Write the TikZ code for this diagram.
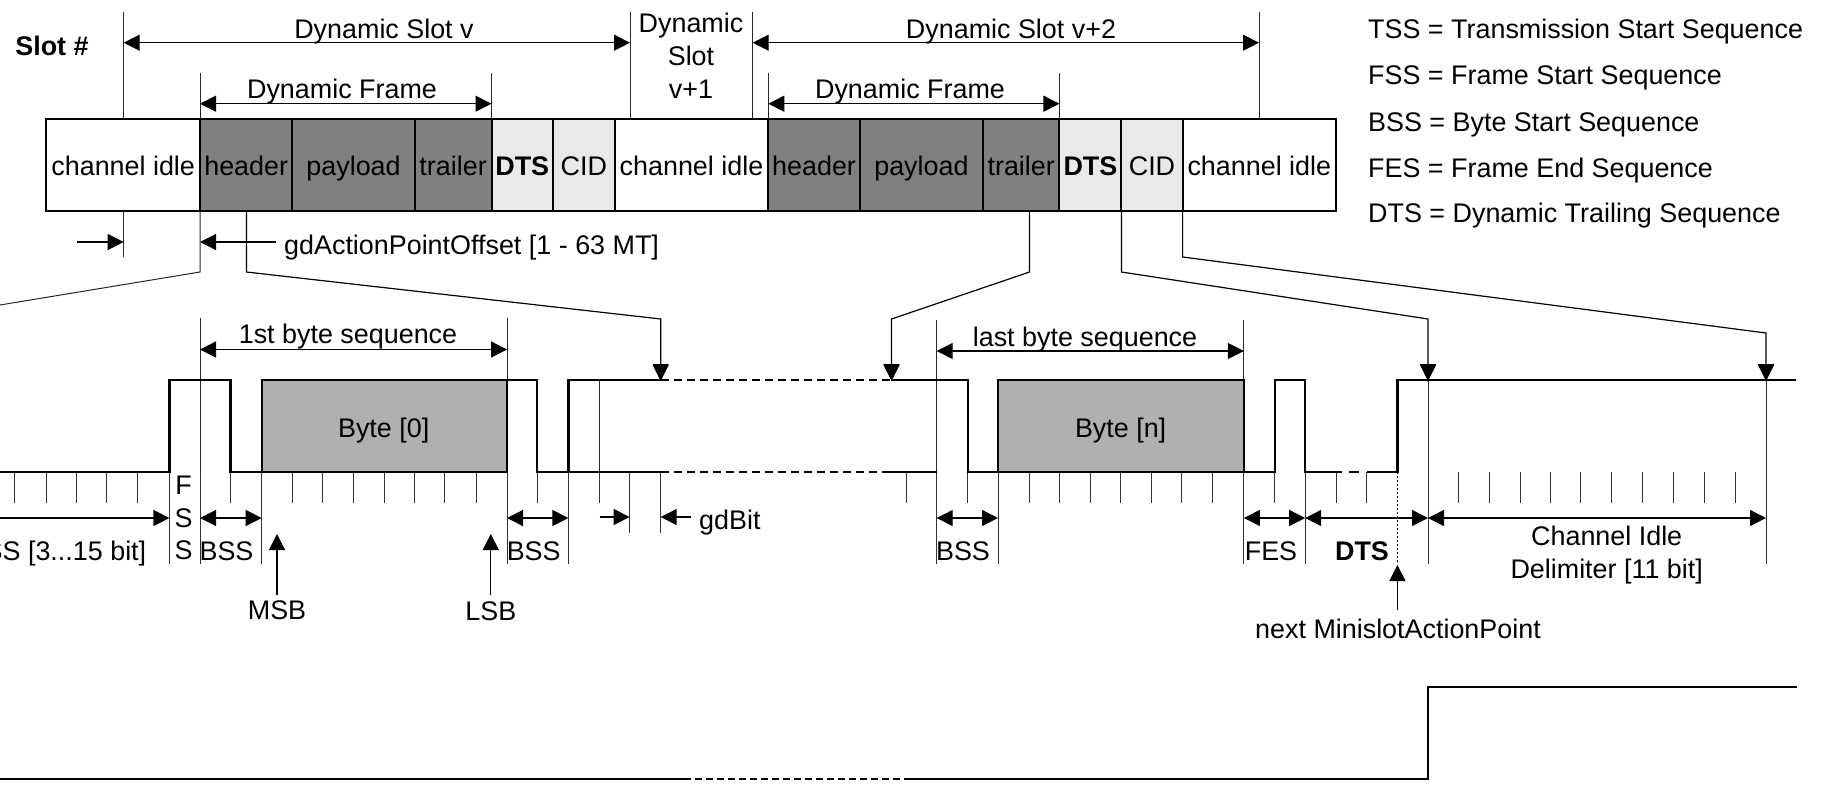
\documentclass[tikz,border=0pt]{standalone}
\usepackage{fontspec}
\setmainfont{Liberation Sans}
\usetikzlibrary{arrows.meta}
\definecolor{framedark}{HTML}{808080}
\definecolor{framelight}{HTML}{E9E9E9}
\definecolor{bytegray}{HTML}{B0B0B0}
\tikzset{
  x=1pt,y=-1pt,
  txt/.style={inner sep=0pt,font=\fontsize{26.9}{33}\selectfont,text height=21pt,text depth=0pt},
  txtb/.style={txt,font=\fontsize{26.9}{33}\selectfont\bfseries},
  multi/.style={inner sep=0pt,font=\fontsize{26.9}{33}\selectfont,align=center},
  field/.style={draw=black,line width=2pt,outer sep=0pt,inner sep=0pt,minimum height=92pt,font=\fontsize{26.9}{33}\selectfont,text height=21pt,text depth=0pt},
  bytebox/.style={draw=black,line width=2pt,outer sep=0pt,fill=bytegray,minimum height=92.3pt,inner sep=0pt,anchor=north west},
  thin line/.style={draw=black!85,line width=1pt},
  fine tick/.style={draw=black!80,line width=1pt},
  dim/.style={draw=black,line width=1.3pt,arrows={Triangle[length=16pt,width=16pt]-Triangle[length=16pt,width=16pt]}},
  pointer/.style={draw=black,line width=1.2pt,arrows={-Triangle[length=16pt,width=16pt]}},
  signal/.style={draw=black,line width=2.3pt,line join=miter},
  sigdash/.style={draw=black,line width=2.3pt,dash pattern=on 8pt off 5pt},
}
\newcommand{\fieldat}[5]{\node[field,#5,minimum width=#3pt-#2pt,anchor=west] (#1) at (#2,165) {#4};}
\begin{document}
\begin{tikzpicture}
\useasboundingbox (0,0) rectangle (1821,788);
\clip (0,0) rectangle (1821,788);
% frame fields
\fieldat{idleA}{46.4}{200}{channel idle}{fill=white}
\fieldat{headA}{200}{292.4}{header}{fill=framedark}
\fieldat{payA}{292.4}{414.7}{payload}{fill=framedark}
\fieldat{trailA}{414.7}{491.5}{trailer}{fill=framedark}
\fieldat{dtsA}{491.5}{553}{\bfseries DTS}{fill=framelight}
\fieldat{cidA}{553}{614.7}{CID}{fill=framelight}
\fieldat{idleB}{614.7}{768.3}{channel idle}{fill=white}
\fieldat{headB}{768.3}{859.8}{header}{fill=framedark}
\fieldat{payB}{859.8}{983}{payload}{fill=framedark}
\fieldat{trailB}{983}{1059.4}{trailer}{fill=framedark}
\fieldat{dtsB}{1059.4}{1121.4}{\bfseries DTS}{fill=framelight}
\fieldat{cidB}{1121.4}{1182.6}{CID}{fill=framelight}
\fieldat{idleC}{1182.6}{1336}{channel idle}{fill=white}
% top dimension lines
\coordinate (sv0t) at (123.7,12); \coordinate (sv0b) at (123.7,119); \coordinate (sv0a) at (123.7,42.7);
\coordinate (sv1t) at (630,12);   \coordinate (sv1b) at (630,119);   \coordinate (sv1a) at (630,42.7);
\coordinate (sv2t) at (752.7,12); \coordinate (sv2b) at (752.7,119); \coordinate (sv2a) at (752.7,42.7);
\coordinate (sv3t) at (1259,12);  \coordinate (sv3b) at (1259,119);  \coordinate (sv3a) at (1259,42.7);
\coordinate (fa0t) at (200,73);   \coordinate (fa0a) at (200,103.7);
\coordinate (fa1t) at (491.5,73); \coordinate (fa1a) at (491.5,103.7);
\coordinate (fb0t) at (768.3,73); \coordinate (fb0a) at (768.3,103.7);
\coordinate (fb1t) at (1059.4,73);\coordinate (fb1a) at (1059.4,103.7);
\foreach \p/\q in {sv0t/sv0b,sv1t/sv1b,sv2t/sv2b,sv3t/sv3b}{\draw[thin line] (\p) -- (\q);}
\draw[thin line] (fa0t) -- (200,119);
\draw[thin line] (fa1t) -- (491.5,119);
\draw[thin line] (fb0t) -- (768.3,119);
\draw[thin line] (fb1t) -- (1059.4,119);
\draw[dim] (sv0a) -- (sv1a);
\draw[dim] (sv2a) -- (sv3a);
\draw[dim] (fa0a) -- (fa1a);
\draw[dim] (fb0a) -- (fb1a);
\node[txtb] (slotno) at (52,45) {Slot \#};
\node[txt] (slotv) at (384,28) {Dynamic Slot v};
\node[multi] (slotv1) at (691,56) {Dynamic\\Slot\\v+1};
\node[txt] (slotv2) at (1011,28) {Dynamic Slot v+2};
\node[txt] (frameA) at (342,87.5) {Dynamic Frame};
\node[txt] (frameB) at (910,87.5) {Dynamic Frame};
% legend
\node[txt,anchor=west] (lg1) at (1368,27.5) {TSS = Transmission Start Sequence};
\node[txt,anchor=west] (lg2) at (1368,74) {FSS = Frame Start Sequence};
\node[txt,anchor=west] (lg3) at (1368,121) {BSS = Byte Start Sequence};
\node[txt,anchor=west] (lg4) at (1368,167) {FES = Frame End Sequence};
\node[txt,anchor=west] (lg5) at (1368,212) {DTS = Dynamic Trailing Sequence};
% action point offset
\node[txt,anchor=west] (apo) at (284,244) {gdActionPointOffset [1 - 63 MT]};
\coordinate (apL0) at (77,242); \coordinate (apL1) at (123.7,242);
\draw[thin line] (sv0a |- idleA.south) -- (123.7,257);
\draw[pointer] (apL0) -- (apL1);
\coordinate (apR) at (200,242);
\draw[pointer] (apo.west |- apR) ++(-8,0) -- (apR);
% zoom connectors
\coordinate (z1a) at (200,272); \coordinate (z1b) at (0,305);
\draw[thin line] (200,211) -- (z1a) -- (z1b);
\coordinate (z2a) at (246.4,272); \coordinate (z2b) at (660.7,319); \coordinate (z2c) at (660.7,380);
\draw[pointer] (246.4,211) -- (z2a) -- (z2b) -- (z2c);
\coordinate (z3a) at (1029.5,272); \coordinate (z3b) at (891.5,319); \coordinate (z3c) at (891.5,380);
\draw[pointer] (1029.5,211) -- (z3a) -- (z3b) -- (z3c);
\coordinate (z4a) at (1121.4,272); \coordinate (z4b) at (1428,319); \coordinate (z4c) at (1428,380);
\draw[pointer] (1121.4,211) -- (z4a) -- (z4b) -- (z4c);
\coordinate (z5a) at (1182.6,257); \coordinate (z5b) at (1766,333); \coordinate (z5c) at (1766,380);
\draw[pointer] (1182.6,211) -- (z5a) -- (z5b) -- (z5c);
% ticks
\foreach \x in {14.3,46,76.5,106.6,137,230.6,292.3,322.4,353.6,384.7,414.3,444.4,476,537.3,599.5,906.4,967.7,1029,1059.3,1090.3,1120.6,1151.6,1181.3,1212.3,1274.8,1336,1366.5}{\draw[fine tick] (\x,472) -- (\x,502.7);}
\foreach \x in {1458.7,1489.7,1520,1550.4,1580.7,1611.7,1642.7,1673.7,1704.6,1735.6}{\draw[fine tick] (\x,472) -- (\x,502.7);}
\foreach \x in {169.4,200,261.7,507,568.4,936.7,998,1243.9,1305.2,1428,1766}{\draw[fine tick] (\x,472) -- (\x,564);}
\foreach \x in {629.6,660.7}{\draw[fine tick] (\x,472) -- (\x,533);}
\draw[line width=.8pt,dash pattern=on 2pt off 2pt] (1397.4,472) -- (1397.4,563);
% upper extents
\draw[thin line] (200,318) -- (200,472);
\draw[thin line] (507,318) -- (507,380);
\draw[thin line] (936.7,320) -- (936.7,472);
\draw[thin line] (1243.9,320) -- (1243.9,380);
\draw[thin line] (599.5,380) -- (599.5,472);
\draw[thin line] (1428,380) -- (1428,472);
\draw[thin line] (1766,380) -- (1766,472);
% bytes
\node[bytebox,minimum width=245.3pt] (byte0) at (261.7,380) {};
\node[txt] (byte0t) at (383.7,427) {Byte [0]};
\node[bytebox,minimum width=245.9pt] (byten) at (998,380) {};
\node[txt] (bytent) at (1120.6,427) {Byte [n]};
% signal
\draw[signal] (0,472.3) -- (169.4,472.3) -- (169.4,380) -- (230.6,380) -- (230.6,472.3) -- (261.7,472.3);
\draw[signal] (507,380) -- (537.3,380) -- (537.3,472.3) -- (568.4,472.3) -- (568.4,380) -- (660.7,380);
\draw[signal] (568.4,472.3) -- (660.7,472.3);
\draw[sigdash] (660.7,380) -- (891,380);
\draw[sigdash] (660.7,472.3) -- (887,472.3);
\draw[signal] (891,380) -- (967.7,380) -- (967.7,472.3) -- (998,472.3);
\draw[signal] (887,472.3) -- (936.7,472.3);
\draw[signal] (1243.9,472.3) -- (1274.8,472.3) -- (1274.8,380) -- (1305.2,380) -- (1305.2,472.3) -- (1342,472.3);
\draw[signal] (1348.5,472.3) -- (1359,472.3);
\draw[signal] (1367,472.3) -- (1397.4,472.3) -- (1397.4,380) -- (1796,380);
% redraw pointer tips above the signal
\foreach \x in {660.7,891.5,1428,1766}{\fill (\x,381) -- (\x-8,365) -- (\x+8,365) -- cycle;}
% byte dimensions
\coordinate (bs0) at (200,349.5); \coordinate (bs1) at (507,349.5);
\coordinate (ls0) at (936.7,351); \coordinate (ls1) at (1243.9,351);
\draw[dim] (bs0) -- (bs1);
\draw[dim] (ls0) -- (ls1);
\node[txt] (fbs) at (348,333) {1st byte sequence};
\node[txt] (lbs) at (1085,336) {last byte sequence};
% lower dimensions
\coordinate (t0) at (0,518); \coordinate (t1) at (169.4,518);
\coordinate (b0) at (200,518); \coordinate (b1) at (261.7,518);
\coordinate (b2) at (507,518); \coordinate (b3) at (568.4,518);
\coordinate (b4) at (936.7,518); \coordinate (b5) at (998,518);
\coordinate (f0) at (1243.9,518); \coordinate (f1) at (1305.2,518);
\coordinate (d1) at (1428,518); \coordinate (c1) at (1766,518);
\draw[pointer] (t0) -- (t1);
\draw[dim] (b0) -- (b1);
\draw[dim] (b2) -- (b3);
\draw[dim] (b4) -- (b5);
\draw[dim] (f0) -- (f1);
\draw[dim] (f1) -- (d1);
\draw[dim] (d1) -- (c1);
\coordinate (g0) at (599.5,517); \coordinate (g1) at (629.6,517);
\coordinate (g2) at (691,517); \coordinate (g3) at (660.7,517);
\draw[pointer] (g0) -- (g1);
\draw[pointer] (g2) -- (g3);
\node[txt,anchor=west] (gdbit) at (699,519) {gdBit};
\node[txt,anchor=east] (tss) at (146.4,550) {SS [3...15 bit]};
\node[txt] (fssF) at (183.7,484) {F};
\node[txt] (fssS1) at (183.7,517) {S};
\node[txt] (fssS2) at (183.7,549) {S};
\node[txt] (bss1) at (226.5,550) {BSS};
\node[txt] (bss2) at (533.7,550) {BSS};
\node[txt] (bss3) at (963,550) {BSS};
\node[txt] (fes) at (1271,550) {FES};
\node[txtb] (dtslow) at (1362,550) {DTS};
\node[multi] (cid) at (1606.7,555) {Channel Idle\\Delimiter [11 bit]};
% markers
\node[txt] (msb) at (277,609) {MSB};
\node[txt] (lsb) at (490.8,610) {LSB};
\node[txt] (nmap) at (1398,628) {next MinislotActionPoint};
\coordinate (msbT) at (277,534); \coordinate (msbF) at (277,595);
\coordinate (lsbT) at (490.8,534); \coordinate (lsbF) at (490.8,595);
\coordinate (nmT) at (1397.4,565); \coordinate (nmF) at (1397.4,610);
\draw[pointer] (msbF) -- (msbT);
\draw[pointer] (lsbF) -- (lsbT);
\draw[pointer] (nmF) -- (nmT);
% bottom trace
\draw[signal] (0,778.7) -- (684,778.7);
\draw[draw=black,line width=2.3pt,dash pattern=on 7pt off 4pt] (684,778.7) -- (904,778.7);
\draw[signal] (904,778.7) -- (1428,778.7) -- (1428,687.3) -- (1797,687.3);
\end{tikzpicture}
\end{document}
